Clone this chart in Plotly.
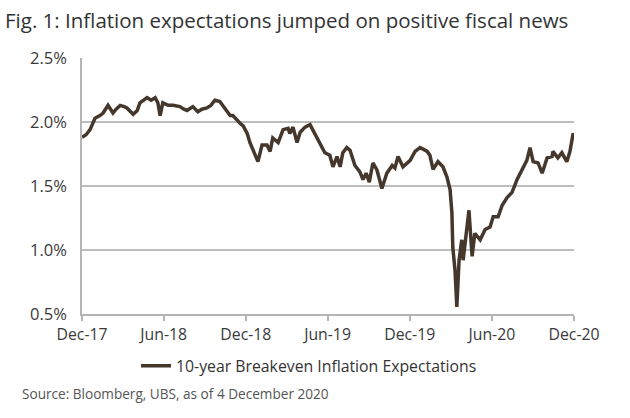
import plotly.graph_objects as go

dates = [
    "2017-12-01", "2017-12-10", "2017-12-19", "2017-12-30", "2018-01-10", "2018-01-17",
    "2018-01-28", "2018-02-08", "2018-02-15", "2018-02-24", "2018-03-05", "2018-03-11",
    "2018-03-25", "2018-04-03", "2018-04-09", "2018-04-25", "2018-05-04", "2018-05-13",
    "2018-05-19", "2018-05-24", "2018-05-30", "2018-06-11", "2018-06-22", "2018-07-01",
    "2018-07-07", "2018-07-16", "2018-07-23", "2018-08-05", "2018-08-16", "2018-08-25",
    "2018-09-05", "2018-09-14", "2018-09-23", "2018-10-04", "2018-10-13", "2018-10-20",
    "2018-10-27", "2018-11-02", "2018-11-09", "2018-11-18", "2018-11-25", "2018-12-04",
    "2018-12-10", "2018-12-17", "2018-12-23", "2018-12-28", "2019-01-06", "2019-01-17",
    "2019-01-24", "2019-01-30", "2019-02-11", "2019-02-22", "2019-03-05", "2019-03-09",
    "2019-03-16", "2019-03-25", "2019-04-01", "2019-04-12", "2019-04-23", "2019-05-04",
    "2019-05-15", "2019-05-26", "2019-06-06", "2019-06-13", "2019-06-22", "2019-06-29",
    "2019-07-05", "2019-07-14", "2019-07-21", "2019-08-01", "2019-08-12", "2019-08-19",
    "2019-08-26", "2019-09-02", "2019-09-10", "2019-09-19", "2019-09-24", "2019-09-30",
    "2019-10-11", "2019-10-23", "2019-10-29", "2019-11-05", "2019-11-16", "2019-12-02",
    "2019-12-13", "2019-12-24", "2020-01-04", "2020-01-09", "2020-01-15", "2020-01-22",
    "2020-02-02", "2020-02-13", "2020-02-22", "2020-02-29", "2020-03-04", "2020-03-06",
    "2020-03-11", "2020-03-15", "2020-03-20", "2020-03-26", "2020-03-29", "2020-04-07",
    "2020-04-11", "2020-04-18", "2020-04-24", "2020-05-06", "2020-05-17", "2020-05-28",
    "2020-06-04", "2020-06-15", "2020-06-24", "2020-07-05", "2020-07-16", "2020-07-27",
    "2020-08-07", "2020-08-18", "2020-08-25", "2020-09-01", "2020-09-12", "2020-09-21",
    "2020-10-02", "2020-10-13", "2020-10-15", "2020-10-26", "2020-11-04", "2020-11-15",
    "2020-11-22", "2020-11-29", "2020-12-01",
]
breakeven = [
    1.88, 1.90, 1.94, 2.03, 2.05, 2.07,
    2.13, 2.07, 2.10, 2.13, 2.12, 2.11,
    2.06, 2.09, 2.15, 2.19, 2.17, 2.19,
    2.15, 2.05, 2.15, 2.13, 2.13, 2.12,
    2.12, 2.10, 2.09, 2.12, 2.08, 2.10,
    2.11, 2.13, 2.17, 2.16, 2.12, 2.09,
    2.05, 2.05, 2.02, 1.99, 1.97, 1.91,
    1.84, 1.78, 1.74, 1.69, 1.82, 1.82,
    1.77, 1.875, 1.84, 1.94, 1.95, 1.91,
    1.96, 1.84, 1.92, 1.96, 1.98, 1.91,
    1.84, 1.76, 1.74, 1.65, 1.73, 1.65,
    1.76, 1.80, 1.78, 1.66, 1.61, 1.55,
    1.60, 1.53, 1.68, 1.625, 1.56, 1.48,
    1.60, 1.66, 1.64, 1.73, 1.65, 1.70,
    1.77, 1.80, 1.78, 1.77, 1.74, 1.63,
    1.69, 1.65, 1.57, 1.47, 1.29, 1.02,
    0.84, 0.555, 0.92, 1.08, 0.92, 1.21,
    1.31, 0.95, 1.13, 1.08, 1.16, 1.18,
    1.26, 1.26, 1.35, 1.41, 1.45, 1.55,
    1.625, 1.70, 1.80, 1.69, 1.68, 1.60,
    1.72, 1.73, 1.77, 1.72, 1.76, 1.69,
    1.77, 1.91, 1.90,
]
y_ticks = [0.5, 1.0, 1.5, 2.0, 2.5]
y_tick_labels = ["0.5%", "1.0%", "1.5%", "2.0%", "2.5%"]
x_ticks = ["2017-12-01", "2018-06-01", "2018-12-01", "2019-06-01",
           "2019-12-01", "2020-06-01", "2020-12-01"]
x_tick_labels = ["Dec-17", "Jun-18", "Dec-18", "Jun-19", "Dec-19", "Jun-20", "Dec-20"]

FONT = "Open Sans"
LINE_COLOR = "#45372b"

fig = go.Figure()
fig.add_trace(go.Scatter(
    x=dates, y=breakeven, mode="lines",
    name="10-year Breakeven Inflation Expectations",
    line=dict(color=LINE_COLOR, width=3.5),
))

fig.update_layout(
    width=630, height=418,
    margin=dict(l=82, r=56, t=58, b=104),
    paper_bgcolor="white", plot_bgcolor="white",
    font=dict(family=FONT, color="#3a3a3a"),
    title=dict(
        text="Fig. 1: Inflation expectations jumped on positive fiscal news",
        x=5 / 630, xref="container", xanchor="left",
        y=1 - 21 / 418, yref="container", yanchor="middle",
        font=dict(family=FONT, size=20.5, color="#333333"),
    ),
    showlegend=True,
    legend=dict(
        orientation="h", x=(136 - 82) / 492, xanchor="left",
        y=(314 - 366) / 256, yanchor="middle",
        font=dict(family=FONT, size=15.8, color="#333333"),
        itemwidth=30, bgcolor="rgba(0,0,0,0)",
    ),
    xaxis=dict(
        type="date", range=["2017-12-01", "2020-12-01"],
        tickvals=x_ticks, ticktext=x_tick_labels,
        showgrid=False, showline=True, linecolor="#b5b5b5", linewidth=1.5,
        ticks="outside", ticklen=5, tickcolor="#b5b5b5", tickwidth=1.5,
        tickfont=dict(family=FONT, size=15.8, color="#3a3a3a"),
        zeroline=False,
    ),
    yaxis=dict(
        range=[0.5, 2.5], tickvals=y_ticks, ticktext=y_tick_labels,
        showgrid=True, gridcolor="#bdbdbd", gridwidth=1.5,
        showline=True, linecolor="#b5b5b5", linewidth=1.5,
        ticks="", ticklabelstandoff=10,
        tickfont=dict(family=FONT, size=16.5, color="#3a3a3a"),
        zeroline=False,
    ),
)

fig.add_annotation(
    text="Source: Bloomberg, UBS, as of 4 December 2020",
    xref="paper", yref="paper", x=(20 - 82) / 492, y=(314 - 393) / 256,
    xanchor="left", yanchor="middle", showarrow=False,
    font=dict(family=FONT, size=13.6, color="#555555"),
)

fig.write_html(
    "out.html",
    config={"displayModeBar": False},
    post_script="document.body.style.margin='0';",
)
